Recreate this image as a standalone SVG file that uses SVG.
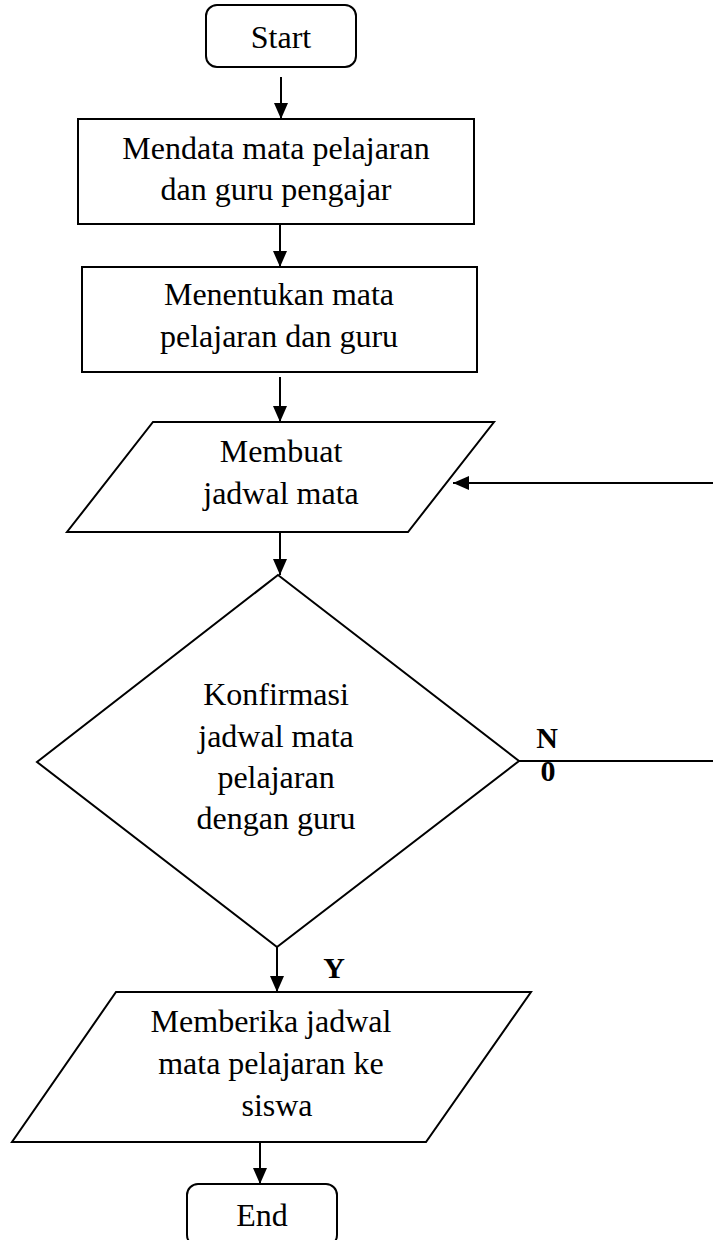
<svg xmlns="http://www.w3.org/2000/svg" width="713" height="1240" viewBox="0 0 713 1240">
  <style>
    .shape { fill: #ffffff; stroke: #000000; stroke-width: 2; }
    .lbl { font-family: "Liberation Serif", "Times New Roman", serif; font-size: 32px; fill: #000000; text-anchor: middle; }
    .bold { font-family: "Liberation Serif", "Times New Roman", serif; font-size: 30px; font-weight: bold; fill: #000000; text-anchor: middle; }
    .conn { fill: none; stroke: #000000; stroke-width: 2; }
  </style>
  <defs>
    <marker id="arrow" viewBox="0 0 16 14" refX="16" refY="7" markerWidth="16" markerHeight="14" markerUnits="userSpaceOnUse" orient="auto">
      <path d="M0,0 L16,7 L0,14 Z" fill="#000000"/>
    </marker>
  </defs>
  <rect width="713" height="1240" fill="#ffffff"/>

  <g id="connectors">
    <line class="conn" x1="281" y1="77" x2="281" y2="119" marker-end="url(#arrow)"/>
    <line class="conn" x1="280" y1="224" x2="280" y2="267" marker-end="url(#arrow)"/>
    <line class="conn" x1="280" y1="377" x2="280" y2="422" marker-end="url(#arrow)"/>
    <line class="conn" x1="280" y1="532" x2="280" y2="575" marker-end="url(#arrow)"/>
    <line class="conn" x1="277" y1="947" x2="277" y2="992" marker-end="url(#arrow)"/>
    <line class="conn" x1="260" y1="1142" x2="260" y2="1184" marker-end="url(#arrow)"/>
    <line class="conn" x1="519" y1="761" x2="713" y2="761"/>
    <line class="conn" x1="713" y1="483" x2="453" y2="483" marker-end="url(#arrow)"/>
    <text class="bold" x="547" y="748">N</text>
    <text class="bold" x="548" y="781">0</text>
    <text class="bold" x="334" y="978">Y</text>
  </g>

  <g id="start">
    <rect class="shape" x="206" y="5" width="150" height="62" rx="11" ry="11"/>
    <text class="lbl" x="281" y="48">Start</text>
  </g>

  <g id="mendata">
    <rect class="shape" x="78" y="119" width="396" height="105"/>
    <text class="lbl" x="276" y="159">Mendata mata pelajaran</text>
    <text class="lbl" x="276" y="200">dan guru pengajar</text>
  </g>

  <g id="menentukan">
    <rect class="shape" x="82" y="267" width="395" height="105"/>
    <text class="lbl" x="279" y="305">Menentukan mata</text>
    <text class="lbl" x="279" y="347">pelajaran dan guru</text>
  </g>

  <g id="membuat">
    <polygon class="shape" points="153,422 494,422 408,532 67,532"/>
    <text class="lbl" x="281" y="462">Membuat</text>
    <text class="lbl" x="281" y="504">jadwal mata</text>
  </g>

  <g id="konfirmasi">
    <polygon class="shape" points="278,575 519,761 277,947 37,762"/>
    <text class="lbl" x="276" y="705">Konfirmasi</text>
    <text class="lbl" x="276" y="747">jadwal mata</text>
    <text class="lbl" x="276" y="788">pelajaran</text>
    <text class="lbl" x="276" y="829">dengan guru</text>
  </g>

  <g id="memberika">
    <polygon class="shape" points="116,992 531,992 426,1142 12,1142"/>
    <text class="lbl" x="271" y="1032">Memberika jadwal</text>
    <text class="lbl" x="271" y="1074">mata pelajaran ke</text>
    <text class="lbl" x="277" y="1116">siswa</text>
  </g>

  <g id="end">
    <rect class="shape" x="187" y="1184" width="150" height="62" rx="11" ry="11"/>
    <text class="lbl" x="262" y="1226">End</text>
  </g>
</svg>
